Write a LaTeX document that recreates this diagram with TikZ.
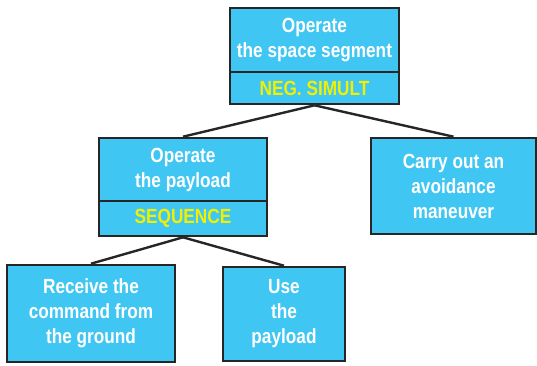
\documentclass[tikz,border=0pt]{standalone}
\usepackage{fontspec}
\setmainfont{Liberation Sans}[FakeStretch=0.84]
\definecolor{boxcyan}{HTML}{40C6F2}
\definecolor{opyellow}{HTML}{F2F000}
\begin{document}
\begin{tikzpicture}[x=1pt,y=-1pt,
  box/.style={draw=black!85,line width=2.6pt,fill=boxcyan,inner sep=0pt,text=white,
    font=\fontsize{20.5}{25}\selectfont\bfseries,align=center},
  opbox/.style={box,text=opyellow},
  link/.style={draw=black!85,line width=2.4pt}]
\useasboundingbox (0,0) rectangle (537,365);
% top
\node[box,minimum width=169pt,minimum height=64pt] (top) at (314.5,40) {Operate\\the space segment};
\node[opbox,minimum width=169pt,minimum height=32pt] (topop) at (314.5,88) {NEG. SIMULT};
% middle left
\node[box,minimum width=168pt,minimum height=63pt] (pay) at (183,169.5) {Operate\\the payload};
\node[opbox,minimum width=168pt,minimum height=35pt] (payop) at (183,218.5) {SEQUENCE};
% right
\node[box,minimum width=165pt,minimum height=96pt] (avoid) at (453.5,186) {Carry out an\\avoidance\\maneuver};
% bottom
\node[box,minimum width=168pt,minimum height=97pt] (recv) at (91,313.5) {Receive the\\command from\\the ground};
\node[box,minimum width=122pt,minimum height=94pt] (use) at (284,314) {Use\\the\\payload};
% links
\draw[link] (topop.south) -- (pay.north);
\draw[link] (topop.south) -- (avoid.north);
\draw[link] (payop.south) -- (recv.north);
\draw[link] (payop.south) -- (use.north);
\end{tikzpicture}
\end{document}
